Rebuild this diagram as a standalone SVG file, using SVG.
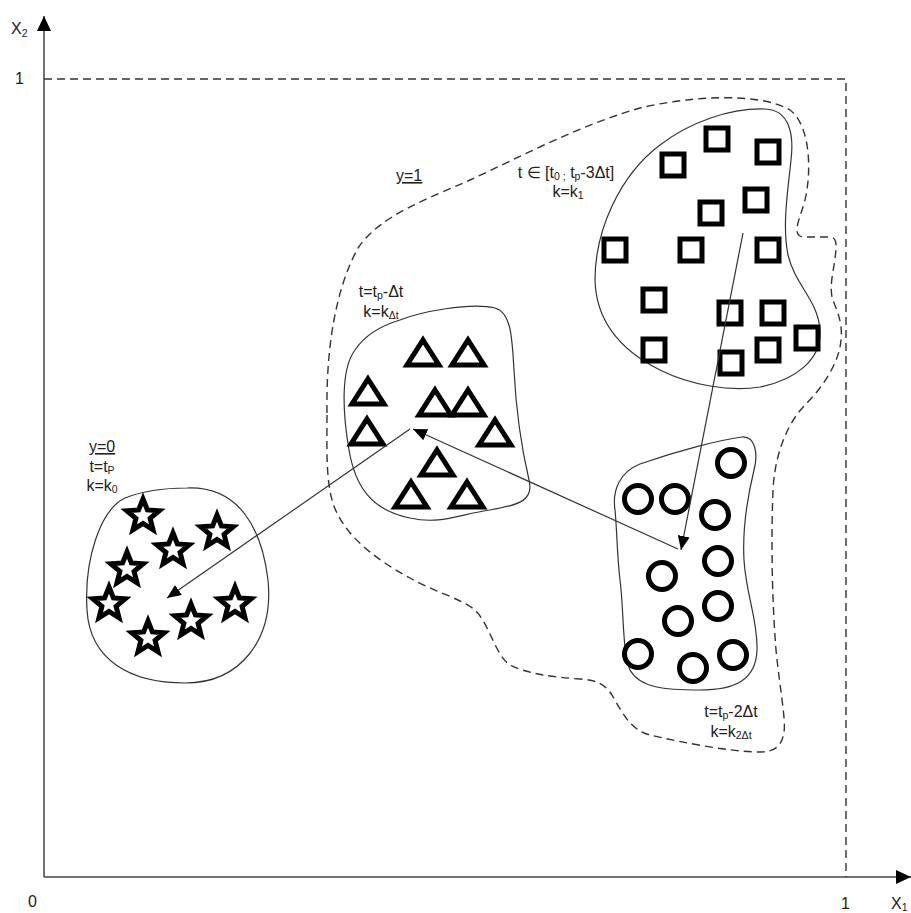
<svg xmlns="http://www.w3.org/2000/svg" width="911" height="913" viewBox="0 0 911 913">
<style>
text{font-family:"Liberation Sans",Arial,sans-serif;font-size:16px;fill:#222}
.mid{text-anchor:middle}
.sub{font-size:10.5px}
.blob{fill:none;stroke:#333;stroke-width:1.2}
.dash{fill:none;stroke:#333;stroke-width:1.4;stroke-dasharray:8 5}
.ax{fill:none;stroke:#444;stroke-width:1.5}
.arr{fill:none;stroke:#333;stroke-width:1.2;marker-end:url(#ah)}
.sym{fill:#fff;stroke:#000;stroke-width:5;stroke-linejoin:miter}
</style>
<defs>
<marker id="ah" markerUnits="userSpaceOnUse" markerWidth="16" markerHeight="12" refX="14" refY="6" orient="auto">
<path d="M0,0 L14,6 L0,12 Z" fill="#000"/>
</marker>
<marker id="axh" markerUnits="userSpaceOnUse" markerWidth="16" markerHeight="14" refX="15" refY="7" orient="auto">
<path d="M0,0 L15,7 L0,14 Z" fill="#000"/>
</marker>
<path id="star" class="sym" d="M0,-17 L4.4,-6.1 L16.2,-5.3 L7.1,2.3 L10,13.8 L0,7.5 L-10,13.8 L-7.1,2.3 L-16.2,-5.3 L-4.4,-6.1 Z"/>
<path id="tri" class="sym" d="M0,-13 L16,12 L-16,12 Z"/>
<rect id="sq" class="sym" x="-11" y="-11" width="22" height="22"/>
<circle id="ci" class="sym" r="13.5"/>
</defs>

<g id="axes">
<line class="ax" x1="44" y1="877" x2="44" y2="16" marker-end="url(#axh)"/>
<line class="ax" x1="44" y1="877" x2="911" y2="877" marker-end="url(#axh)"/>
<polyline class="dash" points="44,79 846,79 846,877" stroke-dasharray="7 4"/>
<text x="11" y="34">X<tspan class="sub" dy="3">2</tspan></text>
<text x="15" y="84">1</text>
<text x="28" y="907">0</text>
<text x="841" y="909">1</text>
<text x="891" y="909">X<tspan class="sub" dy="2">1</tspan></text>
</g>

<g id="region-y1">
<path class="dash" d="M327,413 C326,350 335,290 358,248 C380,215 430,198 470,180 C520,157 580,125 640,108 C690,96 760,92 790,110 C810,125 812,170 805,200 C802,212 797,222 797,230 Q797,237 804,237 L829,237 Q836,237 836,245 C836,265 829,280 832,297 C836,310 843,320 841,340 C839,365 820,390 805,405 C790,420 775,450 773,490 C771,540 772,600 776,650 C780,690 786,720 784,732 C782,748 772,752 760,752 C730,752 680,742 650,735 C630,730 622,712 612,695 C604,683 595,680 580,679 C550,677 525,673 510,665 C495,655 490,625 475,610 C460,598 430,590 410,578 C380,562 350,540 337,513 C325,490 327,450 327,413 Z"/>
<text x="396" y="181" text-decoration="underline">y=1</text>
</g>

<g id="cluster-stars">
<path class="blob" d="M187,488 C240,486 262,530 268,580 C274,640 240,683 185,683 C130,683 90,660 87,610 C84,560 100,510 125,498 C145,490 165,488 187,488 Z"/>
<use href="#star" x="143" y="516"/>
<use href="#star" x="217" y="532"/>
<use href="#star" x="173" y="550"/>
<use href="#star" x="127" y="569"/>
<use href="#star" x="109" y="604"/>
<use href="#star" x="235" y="604"/>
<use href="#star" x="191" y="621"/>
<use href="#star" x="148" y="638"/>
<text class="mid" x="102" y="452" text-decoration="underline">y=0</text>
<text class="mid" x="102" y="472">t=t<tspan class="sub" dy="2">P</tspan></text>
<text class="mid" x="102" y="491">k=k<tspan class="sub" dy="2">0</tspan></text>
</g>

<g id="cluster-triangles">
<path class="blob" d="M400,320 C420,312 470,302 495,308 C512,313 512,340 514,370 C516,410 522,450 529,480 C534,500 520,505 490,510 C460,514 440,525 410,518 C370,510 355,485 349,450 C343,415 340,370 355,350 C365,335 380,326 400,320 Z"/>
<use href="#tri" x="423" y="353"/>
<use href="#tri" x="468" y="353"/>
<use href="#tri" x="368" y="392"/>
<use href="#tri" x="435" y="403"/>
<use href="#tri" x="468" y="403"/>
<use href="#tri" x="367" y="432"/>
<use href="#tri" x="495" y="433"/>
<use href="#tri" x="437" y="463"/>
<use href="#tri" x="411" y="495"/>
<use href="#tri" x="467" y="495"/>
<text class="mid" x="381" y="297">t=t<tspan class="sub" dy="2">p</tspan><tspan dy="-2">-Δt</tspan></text>
<text class="mid" x="381" y="317">k=k<tspan class="sub" dy="2">Δt</tspan></text>
</g>

<g id="cluster-squares">
<path class="blob" d="M595,280 C595,230 620,175 660,145 C690,122 730,108 765,109 C790,110 794,135 791,160 C788,190 782,225 788,255 C795,285 818,300 820,330 C822,360 795,380 760,387 C730,392 690,385 660,370 C620,350 596,320 595,280 Z"/>
<use href="#sq" x="673" y="165"/>
<use href="#sq" x="717" y="139"/>
<use href="#sq" x="768" y="152"/>
<use href="#sq" x="711" y="213"/>
<use href="#sq" x="756" y="200"/>
<use href="#sq" x="615" y="250"/>
<use href="#sq" x="691" y="250"/>
<use href="#sq" x="768" y="250"/>
<use href="#sq" x="654" y="300"/>
<use href="#sq" x="730" y="313"/>
<use href="#sq" x="773" y="313"/>
<use href="#sq" x="807" y="338"/>
<use href="#sq" x="654" y="350"/>
<use href="#sq" x="731" y="363"/>
<use href="#sq" x="768" y="350"/>
<text class="mid" x="566" y="178">t ∈ [t<tspan class="sub" dy="2">0 ;</tspan><tspan dy="-2"> t</tspan><tspan class="sub" dy="2">p</tspan><tspan dy="-2">-3Δt]</tspan></text>
<text class="mid" x="568" y="197">k=k<tspan class="sub" dy="2">1</tspan></text>
</g>

<g id="cluster-circles">
<path class="blob" d="M615,510 C612,490 620,472 640,464 C680,450 720,440 742,437 C756,436 758,455 754,470 C748,495 742,525 744,560 C746,595 758,620 757,650 C756,680 735,690 700,690 C665,690 640,688 630,670 C622,650 624,610 620,580 C617,555 617,530 615,510 Z"/>
<use href="#ci" x="731" y="463"/>
<use href="#ci" x="638" y="499"/>
<use href="#ci" x="675" y="499"/>
<use href="#ci" x="715" y="515"/>
<use href="#ci" x="718" y="561"/>
<use href="#ci" x="662" y="576"/>
<use href="#ci" x="718" y="606"/>
<use href="#ci" x="678" y="621"/>
<use href="#ci" x="638" y="654"/>
<use href="#ci" x="733" y="655"/>
<use href="#ci" x="693" y="668"/>
<text class="mid" x="731" y="717">t=t<tspan class="sub" dy="2">p</tspan><tspan dy="-2">-2Δt</tspan></text>
<text class="mid" x="731" y="737">k=k<tspan class="sub" dy="2">2Δt</tspan></text>
</g>

<g id="connectors">
<line class="arr" x1="743" y1="233" x2="681" y2="550"/>
<line class="arr" x1="678" y1="549" x2="413" y2="429"/>
<line class="arr" x1="410" y1="429" x2="167" y2="598"/>
</g>
</svg>
